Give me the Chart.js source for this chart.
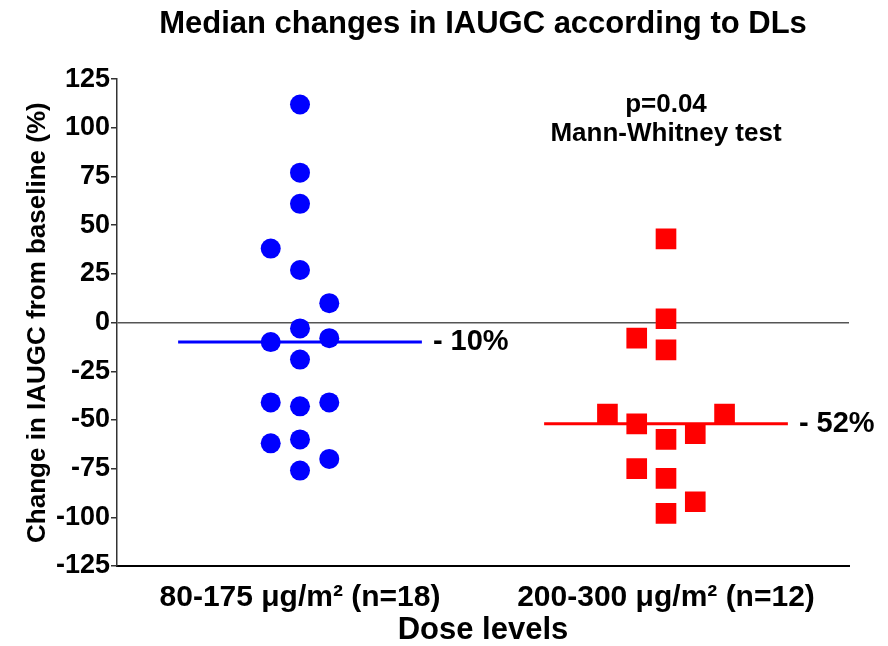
<!DOCTYPE html>
<html>
<head>
<meta charset="utf-8">
<script src="https://cdn.jsdelivr.net/npm/chart.js@4"></script>
<style>
  body { margin: 0; background: #fff; }
</style>
</head>
<body>
<canvas id="chart" width="888" height="646"></canvas>
<script>
// groups on the x axis
const groupLabels = ['80-175 \u03BCg/m\u00B2 (n=18)', '200-300 \u03BCg/m\u00B2 (n=12)'];

// low dose: % change and column within the dot stack
const lowValues = [112, 77, 61, 38, 27, 10, -3, -10, -8, -19, -41, -43, -41, -62, -60, -70, -76];
const lowCols   = [0, 0, 0, -1, 0, 1, 0, -1, 1, 0, -1, 0, 1, -1, 0, 1, 0];

// high dose
const highValues = [43, 2, -8, -14, -47, -52, -60, -57, -47, -75, -80, -92, -98];
const highCols   = [0, 0, -1, 0, -2, -1, 0, 1, 2, -1, 0, 1, 0];

const medians = [-10, -52];
const yTicks = [125, 100, 75, 50, 25, 0, -25, -50, -75, -100, -125];

const colStep = 0.08;
const medianHalf = 0.333;
const FONT = '"Liberation Sans", Arial, sans-serif';

function toPoints(group, values, cols) {
    return values.map((v, i) => ({ x: group + cols[i] * colStep, y: v }));
}

function medianLine(group, m) {
    return [{ x: group - medianHalf, y: m }, { x: group + medianHalf, y: m }];
}

// median labels and test result
const notesPlugin = {
    id: 'notes',
    afterDatasetsDraw(chart) {
        const ctx = chart.ctx;
        const xs = chart.scales.x;
        const ys = chart.scales.y;
        ctx.save();
        ctx.fillStyle = '#000';
        ctx.font = 'bold 29px ' + FONT;
        ctx.textBaseline = 'middle';
        ctx.textAlign = 'left';
        medians.forEach((m, i) => {
            const x = xs.getPixelForValue(i + 1 + medianHalf) + 11;
            ctx.fillText('- ' + Math.abs(m) + '%', x, ys.getPixelForValue(m));
        });
        ctx.textAlign = 'center';
        ctx.font = 'bold 26px ' + FONT;
        ctx.fillText('p=0.04', xs.getPixelForValue(2), ys.getPixelForValue(112));
        ctx.fillText('Mann-Whitney test', xs.getPixelForValue(2), ys.getPixelForValue(97));
        ctx.restore();
    }
};

new Chart(document.getElementById('chart').getContext('2d'), {
    type: 'scatter',
    data: {
        datasets: [
            {
                type: 'line',
                data: medianLine(1, medians[0]),
                borderColor: '#0000FF',
                borderWidth: 3,
                pointRadius: 0,
                showLine: true
            },
            {
                type: 'line',
                data: medianLine(2, medians[1]),
                borderColor: '#FF0000',
                borderWidth: 3,
                pointRadius: 0,
                showLine: true
            },
            {
                data: toPoints(1, lowValues, lowCols),
                backgroundColor: '#0000FF',
                borderWidth: 0,
                pointRadius: 10,
                pointStyle: 'circle'
            },
            {
                data: toPoints(2, highValues, highCols),
                backgroundColor: '#FF0000',
                borderWidth: 0,
                pointRadius: 14.6,
                pointStyle: 'rect'
            }
        ]
    },
    options: {
        responsive: false,
        animation: false,
        events: [],
        layout: { padding: { left: 0, right: 39, top: 0, bottom: 0 } },
        plugins: {
            legend: { display: false },
            tooltip: { enabled: false },
            title: {
                display: true,
                fullSize: false,
                text: 'Median changes in IAUGC according to DLs',
                color: '#000',
                font: { family: FONT, size: 31, weight: 'bold' },
                padding: { top: 6, bottom: 36 }
            }
        },
        scales: {
            x: {
                type: 'linear',
                min: 0.5,
                max: 2.5,
                afterBuildTicks: (scale) => { scale.ticks = [{ value: 1 }, { value: 2 }]; },
                afterFit: (scale) => { scale.height = 80; },
                grid: { display: false, drawTicks: false },
                border: { display: true, color: '#000', width: 2 },
                ticks: {
                    color: '#000',
                    padding: 14,
                    maxRotation: 0,
                    font: { family: FONT, size: 30, weight: 'bold' },
                    callback: (v, i) => groupLabels[i]
                },
                title: {
                    display: true,
                    text: 'Dose levels',
                    color: '#000',
                    padding: { top: 0, bottom: 0 },
                    font: { family: FONT, size: 31, weight: 'bold', lineHeight: 1 }
                }
            },
            y: {
                min: -125,
                max: 125,
                afterBuildTicks: (scale) => { scale.ticks = yTicks.map(v => ({ value: v })); },
                afterFit: (scale) => { scale.width = 117; },
                grid: {
                    color: (c) => (c.tick && c.tick.value === 0 ? '#555' : 'rgba(0,0,0,0)'),
                    lineWidth: 1.5,
                    tickColor: '#333',
                    tickLength: 6,
                    drawTicks: true
                },
                border: { display: true, color: '#333', width: 1.5 },
                ticks: {
                    color: '#000',
                    padding: 1,
                    font: { family: FONT, size: 27, weight: 'bold' }
                },
                title: {
                    display: true,
                    text: 'Change in IAUGC from baseline (%)',
                    color: '#000',
                    padding: { top: 22, bottom: 0 },
                    font: { family: FONT, size: 26, weight: 'bold' }
                }
            }
        }
    },
    plugins: [notesPlugin]
});
</script>
</body>
</html>
